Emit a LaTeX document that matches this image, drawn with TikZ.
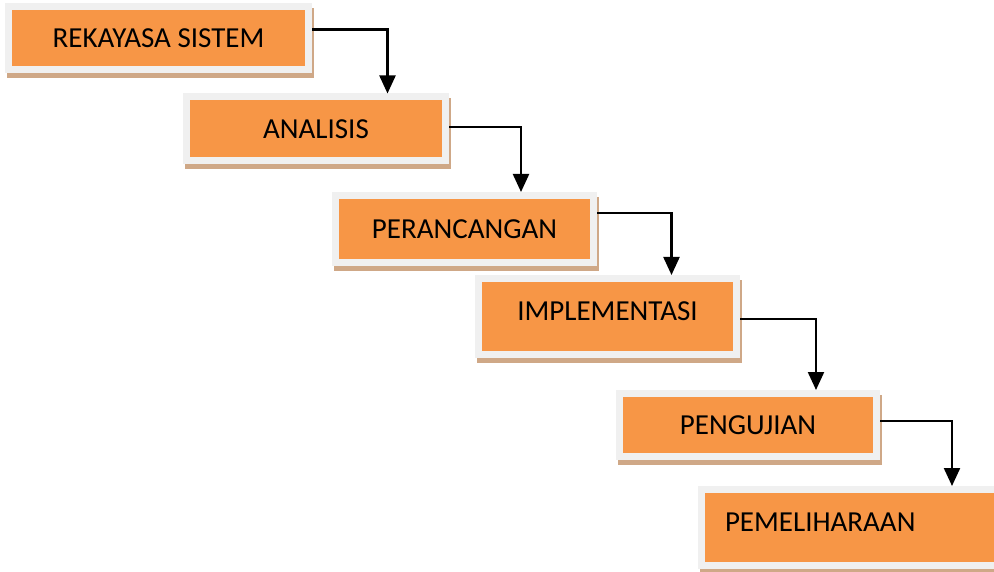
\documentclass[tikz,border=0pt]{standalone}
\usepackage{fontspec}
\setmainfont{Carlito}
\usetikzlibrary{arrows.meta,shadows}

\definecolor{stagefill}{HTML}{F79646}
\definecolor{stagerim}{HTML}{F0F0F0}
\definecolor{stageshade}{RGB}{207,168,135}

\tikzset{
  stage/.style={draw=stagerim,line width=7pt,fill=stagefill,inner sep=0pt,
    text height=18.7pt,text depth=0pt,font=\fontsize{29}{34}\selectfont,
    general shadow={shadow xshift=2pt,shadow yshift=-5pt,fill=stageshade,draw=stageshade}},
  flow/.style={line width=2.2pt,-{Triangle[width=16pt,length=18pt]}}
}

\begin{document}
\begin{tikzpicture}[x=1pt,y=-1pt]
\useasboundingbox (0,0) rectangle (994,572);

% stages:
\node[stage,minimum width=300pt,minimum height=63pt] (rekayasa) at (158.5,38.5) {REKAYASA SISTEM};
\node[stage,minimum width=259pt,minimum height=64pt] (analisis) at (316,129) {ANALISIS};
\node[stage,minimum width=258pt,minimum height=67pt] (perancangan) at (464.5,229) {PERANCANGAN};
\node[stage,minimum width=258pt,minimum height=76pt,text depth=10pt] (implementasi) at (607.5,316.5) {IMPLEMENTASI};
\node[stage,minimum width=257pt,minimum height=63pt] (pengujian) at (748,425) {PENGUJIAN};
\node[stage,minimum height=76pt,text depth=11pt,inner xsep=23.5pt,text width=261.5pt,align=left] (pemeliharaan) at (855.75,527.5) {PEMELIHARAAN};

% arrows between stages:
\draw[flow] ([yshift=9pt]rekayasa.east) -| ([xshift=71.5pt]analisis.north);
\draw[flow] ([yshift=2pt]analisis.east) -| ([xshift=56.5pt]perancangan.north);
\draw[flow] ([yshift=16pt]perancangan.east) -| ([xshift=64pt]implementasi.north);
\draw[flow] ([yshift=-2.5pt]implementasi.east) -| ([xshift=68pt]pengujian.north);
\draw[flow] ([yshift=4pt]pengujian.east) -| ([xshift=96.25pt]pemeliharaan.north);

\end{tikzpicture}
\end{document}
